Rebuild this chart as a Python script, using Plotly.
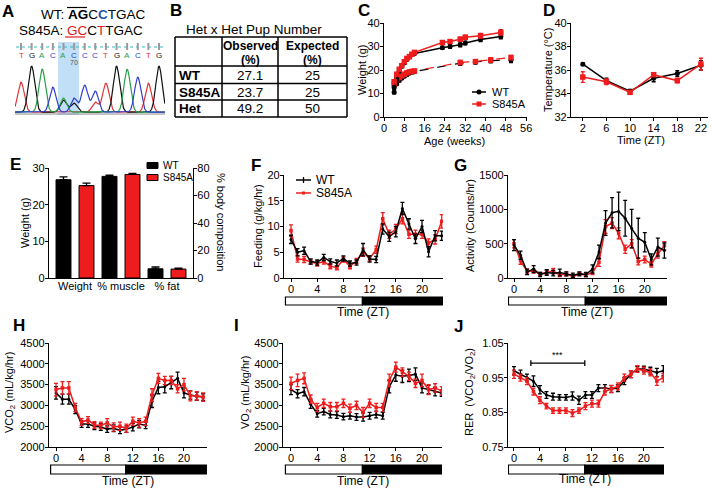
import plotly.graph_objects as go
import numpy as np

W, H = 713, 490
FONT = "Liberation Sans, Arial, Helvetica, sans-serif"
RED = "#ee1c1c"
BLK = "#000000"


def px(x):
    return x / W


def py(y):
    return 1 - y / H


# ---------------- data ----------------
# A: Sanger chromatogram (peak heights)
seq_bases = ["T", "G", "A", "C", "A", "C", "C", "C", "T", "G", "A", "C", "T", "G"]
peak_heights = [30, 46, 43, 25, 14, 14, 27, 21, 29, 46, 43, 35, 29, 46]
minor_pos = [4, 5, 7]
minor_bases = ["G", "G", "T"]
minor_heights = [12, 9, 10]

# B: table
table_rows = ["WT", "S845A", "Het"]
observed = ["27.1", "23.7", "49.2"]
expected = ["25", "25", "50"]

# C: body weight vs age
c_age_solid = [4, 5, 6, 7, 8, 9, 10, 11, 12, 23, 26, 30, 32, 38, 46]
c_wt_solid = [12.5, 16.0, 19.5, 21.5, 23.0, 24.5, 25.5, 26.5, 27.0, 29.5, 30.0, 30.7, 31.5, 33.0, 34.3]
c_wt_solid_err = [0.8, 0.6, 0.6, 0.5, 0.5, 0.5, 0.5, 0.5, 0.5, 0.7, 0.8, 0.8, 0.8, 0.9, 1.0]
c_s_solid = [15.0, 18.2, 20.3, 21.8, 23.5, 24.9, 25.7, 26.7, 27.5, 31.7, 32.1, 33.1, 33.9, 34.6, 36.0]
c_s_solid_err = [0.8, 0.7, 0.6, 0.6, 0.6, 0.6, 0.6, 0.6, 0.6, 0.7, 0.8, 0.9, 0.9, 1.0, 1.2]
c_age_dash = [4, 5, 6, 7, 8, 9, 10, 11, 12, 30, 36, 42, 50]
c_wt_dash = [10.5, 14.0, 15.5, 16.5, 17.3, 18.0, 18.6, 19.0, 19.3, 22.9, 23.4, 24.0, 24.2]
c_wt_dash_err = [0.6, 0.5, 0.5, 0.5, 0.5, 0.5, 0.5, 0.5, 0.5, 0.9, 0.9, 1.0, 1.0]
c_s_dash = [14.0, 16.0, 16.8, 17.5, 18.2, 18.8, 19.2, 19.4, 19.6, 23.2, 23.6, 24.2, 25.3]
c_s_dash_err = [0.6, 0.5, 0.5, 0.5, 0.5, 0.5, 0.5, 0.5, 0.5, 0.9, 0.8, 0.9, 0.9]

# D: temperature
d_zt = [2, 6, 10, 14, 18, 22]
d_wt = [36.5, 35.1, 34.2, 35.3, 35.7, 36.4]
d_wt_err = [0.1, 0.2, 0.15, 0.3, 0.25, 0.4]
d_s = [35.4, 35.0, 34.1, 35.6, 35.1, 36.5]
d_s_err = [0.45, 0.25, 0.15, 0.15, 0.2, 0.5]

# E: body composition
e_categories = ["Weight", "% muscle", "% fat"]
e_weight = [26.8, 25.2]          # g  (WT, S845A)
e_weight_err = [0.8, 0.7]
e_pct = [73.9, 75.3, 6.7, 6.5]   # % (WT muscle, S845A muscle, WT fat, S845A fat)
e_pct_err = [0.9, 0.7, 1.3, 0.6]

# F-J: time course
zt = list(range(24))
f_wt = [7.5, 5.0, 5.3, 3.2, 3.0, 4.0, 3.2, 2.9, 3.8, 2.8, 3.0, 5.5, 3.7, 3.6, 9.5, 8.0, 9.0, 13.5, 10.5, 7.6, 10.0, 5.1, 8.2, 8.2]
f_wt_err = [0.8, 0.7, 0.7, 0.5, 0.5, 0.6, 0.5, 0.6, 0.5, 0.5, 0.5, 1.2, 0.6, 0.6, 1.0, 0.9, 1.0, 1.2, 1.0, 0.9, 1.2, 1.0, 1.0, 0.9]
f_s = [9.2, 3.7, 3.6, 3.1, 2.8, 3.2, 2.3, 2.0, 3.6, 2.3, 3.3, 5.0, 3.8, 5.5, 11.5, 8.5, 9.5, 11.5, 8.5, 8.5, 8.5, 6.8, 7.5, 11.0]
f_s_err = [1.1, 0.6, 0.6, 0.4, 0.5, 0.5, 0.5, 0.4, 0.5, 0.5, 0.5, 0.8, 0.5, 0.7, 1.2, 0.8, 0.9, 1.0, 0.8, 0.8, 0.8, 0.8, 0.9, 1.3]

g_wt = [480, 330, 90, 130, 50, 80, 70, 80, 60, 40, 60, 50, 130, 380, 800, 950, 970, 870, 720, 580, 520, 270, 450, 400]
g_wt_err = [80, 60, 40, 50, 30, 40, 40, 50, 30, 30, 30, 30, 60, 100, 180, 220, 280, 260, 280, 290, 140, 80, 130, 110]
g_s = [500, 250, 100, 100, 60, 80, 100, 40, 60, 20, 60, 40, 80, 230, 750, 800, 650, 420, 500, 240, 270, 200, 350, 470]
g_s_err = [60, 50, 30, 30, 20, 30, 40, 20, 30, 20, 20, 20, 30, 60, 100, 80, 80, 60, 60, 50, 50, 40, 60, 60]

h_wt = [3300, 3150, 3150, 2900, 2550, 2550, 2500, 2480, 2430, 2450, 2400, 2430, 2480, 2550, 2520, 3100, 3430, 3450, 3550, 3650, 3300, 3250, 3220, 3200]
h_wt_err = [150, 120, 120, 100, 80, 80, 80, 80, 80, 80, 80, 80, 90, 90, 80, 150, 150, 150, 150, 150, 120, 100, 100, 80]
h_s = [3380, 3420, 3420, 2950, 2600, 2650, 2530, 2520, 2580, 2480, 2500, 2450, 2620, 2580, 2620, 3250, 3650, 3600, 3600, 3400, 3500, 3230, 3230, 3200]
h_s_err = [150, 150, 150, 100, 80, 80, 80, 80, 100, 100, 100, 100, 100, 100, 100, 150, 120, 100, 100, 100, 150, 120, 100, 100]

i_wt = [3380, 3280, 3330, 3030, 2800, 2850, 2780, 2770, 2730, 2750, 2720, 2720, 2750, 2780, 2750, 3450, 3730, 3700, 3720, 3750, 3420, 3380, 3330, 3300]
i_wt_err = [120, 100, 100, 100, 80, 80, 80, 80, 80, 80, 80, 100, 80, 80, 80, 150, 150, 150, 150, 150, 120, 100, 100, 80]
i_s = [3530, 3600, 3650, 3150, 2950, 3050, 2970, 2970, 3050, 2930, 3000, 2830, 3050, 2950, 2950, 3600, 3920, 3800, 3700, 3530, 3600, 3380, 3420, 3350]
i_s_err = [150, 150, 130, 100, 100, 100, 100, 100, 100, 100, 100, 120, 100, 100, 100, 150, 120, 100, 100, 100, 150, 120, 100, 100]

j_wt = [0.970, 0.960, 0.950, 0.940, 0.915, 0.900, 0.895, 0.893, 0.893, 0.897, 0.885, 0.900, 0.900, 0.920, 0.920, 0.917, 0.920, 0.940, 0.960, 0.975, 0.975, 0.970, 0.965, 0.970]
j_wt_err = [0.012, 0.012, 0.010, 0.015, 0.012, 0.010, 0.010, 0.008, 0.008, 0.012, 0.012, 0.010, 0.010, 0.010, 0.010, 0.010, 0.010, 0.010, 0.010, 0.008, 0.008, 0.010, 0.012, 0.015]
j_s = [0.960, 0.950, 0.940, 0.910, 0.885, 0.868, 0.855, 0.855, 0.855, 0.848, 0.855, 0.868, 0.875, 0.875, 0.910, 0.918, 0.925, 0.950, 0.960, 0.975, 0.970, 0.965, 0.940, 0.950]
j_s_err = [0.012, 0.010, 0.010, 0.010, 0.010, 0.008, 0.008, 0.008, 0.008, 0.010, 0.008, 0.010, 0.010, 0.010, 0.010, 0.010, 0.010, 0.010, 0.010, 0.010, 0.010, 0.010, 0.012, 0.012]

# ---------------- figure ----------------
fig = go.Figure()

# A chromatogram
base_colors = {"T": "#e0343a", "G": "#111111", "A": "#27a04a", "C": "#2f3fcf"}
xs = np.linspace(-0.55, 13.55, 900)
for b, col in base_colors.items():
    ys = np.full_like(xs, 0.8)
    for i, (bb, hh) in enumerate(zip(seq_bases, peak_heights)):
        if bb == b:
            ys += hh * np.exp(-((xs - i) ** 2) / (2 * 0.3 ** 2))
    for p, bb, hh in zip(minor_pos, minor_bases, minor_heights):
        if bb == b:
            ys += hh * np.exp(-((xs - p) ** 2) / (2 * 0.3 ** 2))
    fig.add_trace(go.Scatter(x=xs, y=ys, mode="lines", line=dict(color=col, width=1.2),
                             xaxis="x", yaxis="y", hoverinfo="skip"))


def series(x, y, err, color, symbol, size, xa, ya, dash="solid", width=1.5):
    fig.add_trace(go.Scatter(
        x=x, y=y, mode="lines+markers", xaxis=xa, yaxis=ya,
        line=dict(color=color, width=width, dash=dash),
        marker=dict(color=color, symbol=symbol, size=size),
        error_y=dict(type="data", array=err, color=color, thickness=1.3, width=2),
        hoverinfo="skip"))


# C
series(c_age_dash, c_wt_dash, c_wt_dash_err, BLK, "circle", 5, "x2", "y2", dash="dash", width=1.2)
series(c_age_dash, c_s_dash, c_s_dash_err, RED, "square", 5.5, "x2", "y2", dash="dash", width=1.2)
series(c_age_solid, c_wt_solid, c_wt_solid_err, BLK, "circle", 5, "x2", "y2")
series(c_age_solid, c_s_solid, c_s_solid_err, RED, "square", 5.5, "x2", "y2")

# D
series(d_zt, d_wt, d_wt_err, BLK, "circle", 5, "x3", "y3")
series(d_zt, d_s, d_s_err, RED, "square", 5.5, "x3", "y3")

# E
fig.add_trace(go.Bar(x=[0, 1], y=e_weight, width=0.65, xaxis="x4", yaxis="y4",
                     marker=dict(color=[BLK, RED], line=dict(color=BLK, width=1)),
                     error_y=dict(type="data", symmetric=False, array=e_weight_err, arrayminus=[0, 0],
                                  color=BLK, thickness=1.3, width=4), hoverinfo="skip"))
fig.add_trace(go.Bar(x=[2, 3, 4, 5], y=e_pct, width=0.65, xaxis="x4", yaxis="y10",
                     marker=dict(color=[BLK, RED, BLK, RED], line=dict(color=BLK, width=1)),
                     error_y=dict(type="data", symmetric=False, array=e_pct_err, arrayminus=[0, 0, 0, 0],
                                  color=BLK, thickness=1.3, width=4), hoverinfo="skip"))

# F-J
for (wt, wte, s, se, xa, ya) in [
    (f_wt, f_wt_err, f_s, f_s_err, "x5", "y5"),
    (g_wt, g_wt_err, g_s, g_s_err, "x6", "y6"),
    (h_wt, h_wt_err, h_s, h_s_err, "x7", "y7"),
    (i_wt, i_wt_err, i_s, i_s_err, "x8", "y8"),
    (j_wt, j_wt_err, j_s, j_s_err, "x9", "y9"),
]:
    if xa in ("x5", "x6"):
        series(zt, s, se, RED, "square", 3.5, xa, ya)
        series(zt, wt, wte, BLK, "circle", 3, xa, ya)
    else:
        series(zt, wt, wte, BLK, "circle", 3, xa, ya)
        series(zt, s, se, RED, "square", 3.5, xa, ya)


# ---------------- axes ----------------
def ax(**kw):
    d = dict(showline=True, linecolor=BLK, linewidth=1.3, ticks="outside", ticklen=3, tickwidth=1.3,
             tickcolor=BLK, showgrid=False, zeroline=False, fixedrange=True, automargin=False,
             ticklabelstandoff=-2,
             tickfont=dict(family=FONT, size=11, color=BLK))
    d.update(kw)
    return d


def dx(a, b):
    return [px(a), px(b)]


def dy(top, bottom):
    return [py(bottom), py(top)]


layout = dict(
    width=W, height=H, margin=dict(l=0, r=0, t=0, b=0, pad=0, autoexpand=False),
    paper_bgcolor="white", plot_bgcolor="rgba(0,0,0,0)", showlegend=False,
    font=dict(family=FONT, color=BLK),
)
# A
layout["xaxis"] = dict(domain=dx(15, 165), range=[-0.565, 13.565], visible=False, anchor="y",
                       fixedrange=True, automargin=False)
layout["yaxis"] = dict(domain=dy(63, 113), range=[0, 50], visible=False, anchor="x",
                       fixedrange=True, automargin=False)
# C
layout["xaxis2"] = ax(domain=dx(384, 527), range=[0, 56.3], tickvals=list(range(0, 57, 8)), anchor="y2")
layout["yaxis2"] = ax(domain=dy(23, 117), range=[0, 40], tickvals=[0, 10, 20, 30, 40], anchor="x2")
# D
layout["xaxis3"] = ax(domain=dx(571, 708), range=[0, 23.2], tickvals=d_zt, anchor="y3")
layout["yaxis3"] = ax(domain=dy(23, 117), range=[32, 40], tickvals=[32, 34, 36, 38, 40], anchor="x3")
# E
layout["xaxis4"] = ax(domain=dx(49, 193), range=[-0.63, 5.63], tickvals=[0.5, 2.5, 4.5],
                      ticktext=e_categories, ticks="", anchor="y4")
layout["yaxis4"] = ax(domain=dy(168, 278), range=[0, 30], tickvals=[0, 10, 20, 30], anchor="x4")
layout["yaxis10"] = ax(domain=dy(168, 278), range=[0, 80], tickvals=[0, 20, 40, 60, 80], anchor="x4",
                       overlaying="y4", side="right")
# F-J
tzt = [0, 4, 8, 12, 16, 20]
layout["xaxis5"] = ax(domain=dx(284, 443), range=[-1.07, 23.2], tickvals=tzt, anchor="y5")
layout["yaxis5"] = ax(domain=dy(175, 278), range=[0, 20], tickvals=[0, 5, 10, 15, 20], anchor="x5")
layout["xaxis6"] = ax(domain=dx(508, 667), range=[-0.92, 23.4], tickvals=tzt, anchor="y6")
layout["yaxis6"] = ax(domain=dy(175, 278), range=[0, 1500], tickvals=[0, 500, 1000, 1500], anchor="x6")
layout["xaxis7"] = ax(domain=dx(49, 207), range=[-1.1, 23.6], tickvals=tzt, anchor="y7")
layout["yaxis7"] = ax(domain=dy(343, 447), range=[2000, 4500], tickvals=list(range(2000, 4501, 500)), anchor="x7")
layout["xaxis8"] = ax(domain=dx(283, 442), range=[-1.22, 23.05], tickvals=tzt, anchor="y8")
layout["yaxis8"] = ax(domain=dy(343, 447), range=[2000, 4500], tickvals=list(range(2000, 4501, 500)), anchor="x8")
layout["xaxis9"] = ax(domain=dx(508, 664), range=[-0.92, 23.1], tickvals=tzt, anchor="y9")
layout["yaxis9"] = ax(domain=dy(343, 447), range=[0.75, 1.05], tickvals=[0.75, 0.85, 0.95, 1.05],
                      tickformat=".2f", anchor="x9")
fig.update_layout(**layout)

shapes = []
ann = []


def text(x, y, t, size=11, xanchor="center", yanchor="middle", angle=0, color=BLK, xref="paper", yref="paper"):
    ann.append(dict(x=x, y=y, xref=xref, yref=yref, text=t, showarrow=False, xanchor=xanchor,
                    yanchor=yanchor, textangle=angle, font=dict(family=FONT, size=size, color=color)))


def line(x0, y0, x1, y1, color=BLK, width=1.5, dash="solid", xref="paper", yref="paper", layer="above"):
    shapes.append(dict(type="line", x0=x0, y0=y0, x1=x1, y1=y1, xref=xref, yref=yref, layer=layer,
                       line=dict(color=color, width=width, dash=dash)))


def rect(x0, y0, x1, y1, fill, lc=BLK, lw=1, xref="paper", yref="paper", layer="above"):
    shapes.append(dict(type="rect", x0=x0, y0=y0, x1=x1, y1=y1, xref=xref, yref=yref, layer=layer,
                       fillcolor=fill, line=dict(color=lc, width=lw)))


# panel letters
for lab, x, y in [("A", 8, 12), ("B", 176, 10), ("C", 364, 10), ("D", 549, 10), ("E", 15, 164),
                  ("F", 256, 165), ("G", 460, 165), ("H", 19, 325), ("I", 236, 325), ("J", 458, 326)]:
    text(px(x), py(y), "<b>%s</b>" % lab, size=17)

# A texts
text(px(39), py(14), "WT: <b>AG</b>C<b><span style='color:#1f55a8'>C</span></b>TGAC", size=13.5, xanchor="left")
text(px(17), py(31), "S845A: <span style='color:#e02020'>GC</span>C<span style='color:#e02020'>T</span>TGAC",
     size=13.5, xanchor="left")
line(px(67), py(7.5), px(87), py(7.5), width=1.2)
line(px(65), py(37), px(85), py(37), color="#e02020", width=1.2)
rect(3.49, py(42), 5.46, py(115), "rgba(120,185,240,0.45)", lc="rgba(0,0,0,0)", lw=0, xref="x", layer="below")
line(px(16), py(47), px(163), py(47), color="#3bb8c0", width=1.2, dash="dot")
for i, b in enumerate(seq_bases):
    line(i, py(43), i, py(50), color="#9a9a9a", width=2, xref="x")
    text(i, py(55), b, size=8, color=base_colors[b], xref="x")
text(5, py(63), "70", size=7, color="#555555", xref="x")
line(px(15), py(114), px(165), py(114), color="#8a8a8a", width=1)

# B table
text(px(254), py(30), "Het x Het Pup Number", size=13.5)
for xv in [175, 222, 278, 347]:
    line(px(xv), py(37), px(xv), py(117))
for yv in [37, 66, 83.5, 100, 117]:
    line(px(175), py(yv), px(347), py(yv))
text(px(250), py(46), "<b>Observed</b>", size=12)
text(px(250), py(60), "<b>(%)</b>", size=12)
text(px(312.5), py(46), "<b>Expected</b>", size=12)
text(px(312.5), py(60), "<b>(%)</b>", size=12)
for r, (lab, o, e) in enumerate(zip(table_rows, observed, expected)):
    yc = [75, 92, 108.5][r]
    text(px(177), py(yc), "<b>%s</b>" % lab, size=13.5, xanchor="left")
    text(px(250), py(yc), o, size=13.5)
    text(px(312.5), py(yc), e, size=13.5)

# C titles + legend
text(px(362), py(70), "Weight (g)", size=11, angle=-90)
text(px(455), py(141), "Age (weeks)", size=11)
line(px(472), py(92), px(486), py(92), color=BLK, width=1.5)
shapes.append(dict(type="circle", xref="paper", yref="paper", x0=px(476.5), x1=px(481.5), y0=py(94.5),
                   y1=py(89.5), fillcolor=BLK, line=dict(color=BLK, width=0)))
text(px(490), py(92), "WT", size=11, xanchor="left")
line(px(472), py(104), px(486), py(104), color=RED, width=1.5)
rect(px(476.5), py(106.5), px(481.5), py(101.5), RED, lc=RED, lw=0)
text(px(490), py(104), "S845A", size=11, xanchor="left")

# D titles
text(px(548), py(70), "Temperature (°C)", size=11, angle=-90)
text(px(641), py(140), "Time (ZT)", size=11)

# E titles + legend
text(px(25), py(223), "Weight (g)", size=11, angle=-90)
text(px(221), py(222), "% body composition", size=11, angle=90)
rect(px(147), py(168.5), px(158), py(162.5), BLK, lc=BLK, lw=1)
text(px(161), py(165), "WT", size=10, xanchor="left")
rect(px(147), py(180.5), px(158), py(174.5), RED, lc=BLK, lw=1)
text(px(161), py(177), "S845A", size=10, xanchor="left")

# F legend
line(px(296), py(180), px(311), py(180), color=BLK, width=1.5)
line(px(303.5), py(177), px(303.5), py(183), color=BLK, width=1.3)
text(px(314), py(180), "WT", size=12, xanchor="left")
line(px(296), py(193), px(311), py(193), color=RED, width=1.5)
rect(px(302), py(194.5), px(305), py(191.5), RED, lc=RED, lw=0)
text(px(314), py(193), "S845A", size=12, xanchor="left")

# titles F-J
text(px(258), py(226), "Feeding (g/kg/hr)", size=11, angle=-90)
text(px(470), py(226), "Activity (Counts/hr)", size=11, angle=-90)
text(px(10), py(393), "VCO<sub>2</sub> (mL/kg/hr)", size=11, angle=-90)
text(px(246), py(393), "VO<sub>2</sub> (mL/kg/hr)", size=11, angle=-90)
text(px(470), py(392), "RER  (VCO<sub>2</sub>/VO<sub>2</sub>)", size=11, angle=-90)
for xc, yc in [(363, 312), (587, 312), (128, 481), (363, 481), (585, 479)]:
    text(px(xc), py(yc), "Time (ZT)", size=12)

# light / dark bars
for xa, (t, b) in [("x5", (297, 305)), ("x6", (297, 305)), ("x7", (465, 474)),
                   ("x8", (465, 474)), ("x9", (465, 474))]:
    rect(-0.85, py(b), 10.9, py(t), "white", lc=BLK, lw=1.2, xref=xa)
    rect(10.9, py(b), 23.5, py(t), BLK, lc=BLK, lw=1.2, xref=xa)

# J significance bracket
line(2.6, 0.992, 10.9, 0.992, xref="x9", yref="y9", width=1.3)
line(2.6, 0.984, 2.6, 1.0, xref="x9", yref="y9", width=1.3)
line(10.9, 0.984, 10.9, 1.0, xref="x9", yref="y9", width=1.3)
text(6.75, 0.996, "***", size=9, xref="x9", yref="y9", yanchor="bottom")

fig.update_layout(shapes=shapes, annotations=ann)
fig.write_html("out.html", config={"displayModeBar": False},
               post_script="document.body.style.margin='0px';document.body.style.overflow='hidden';")
